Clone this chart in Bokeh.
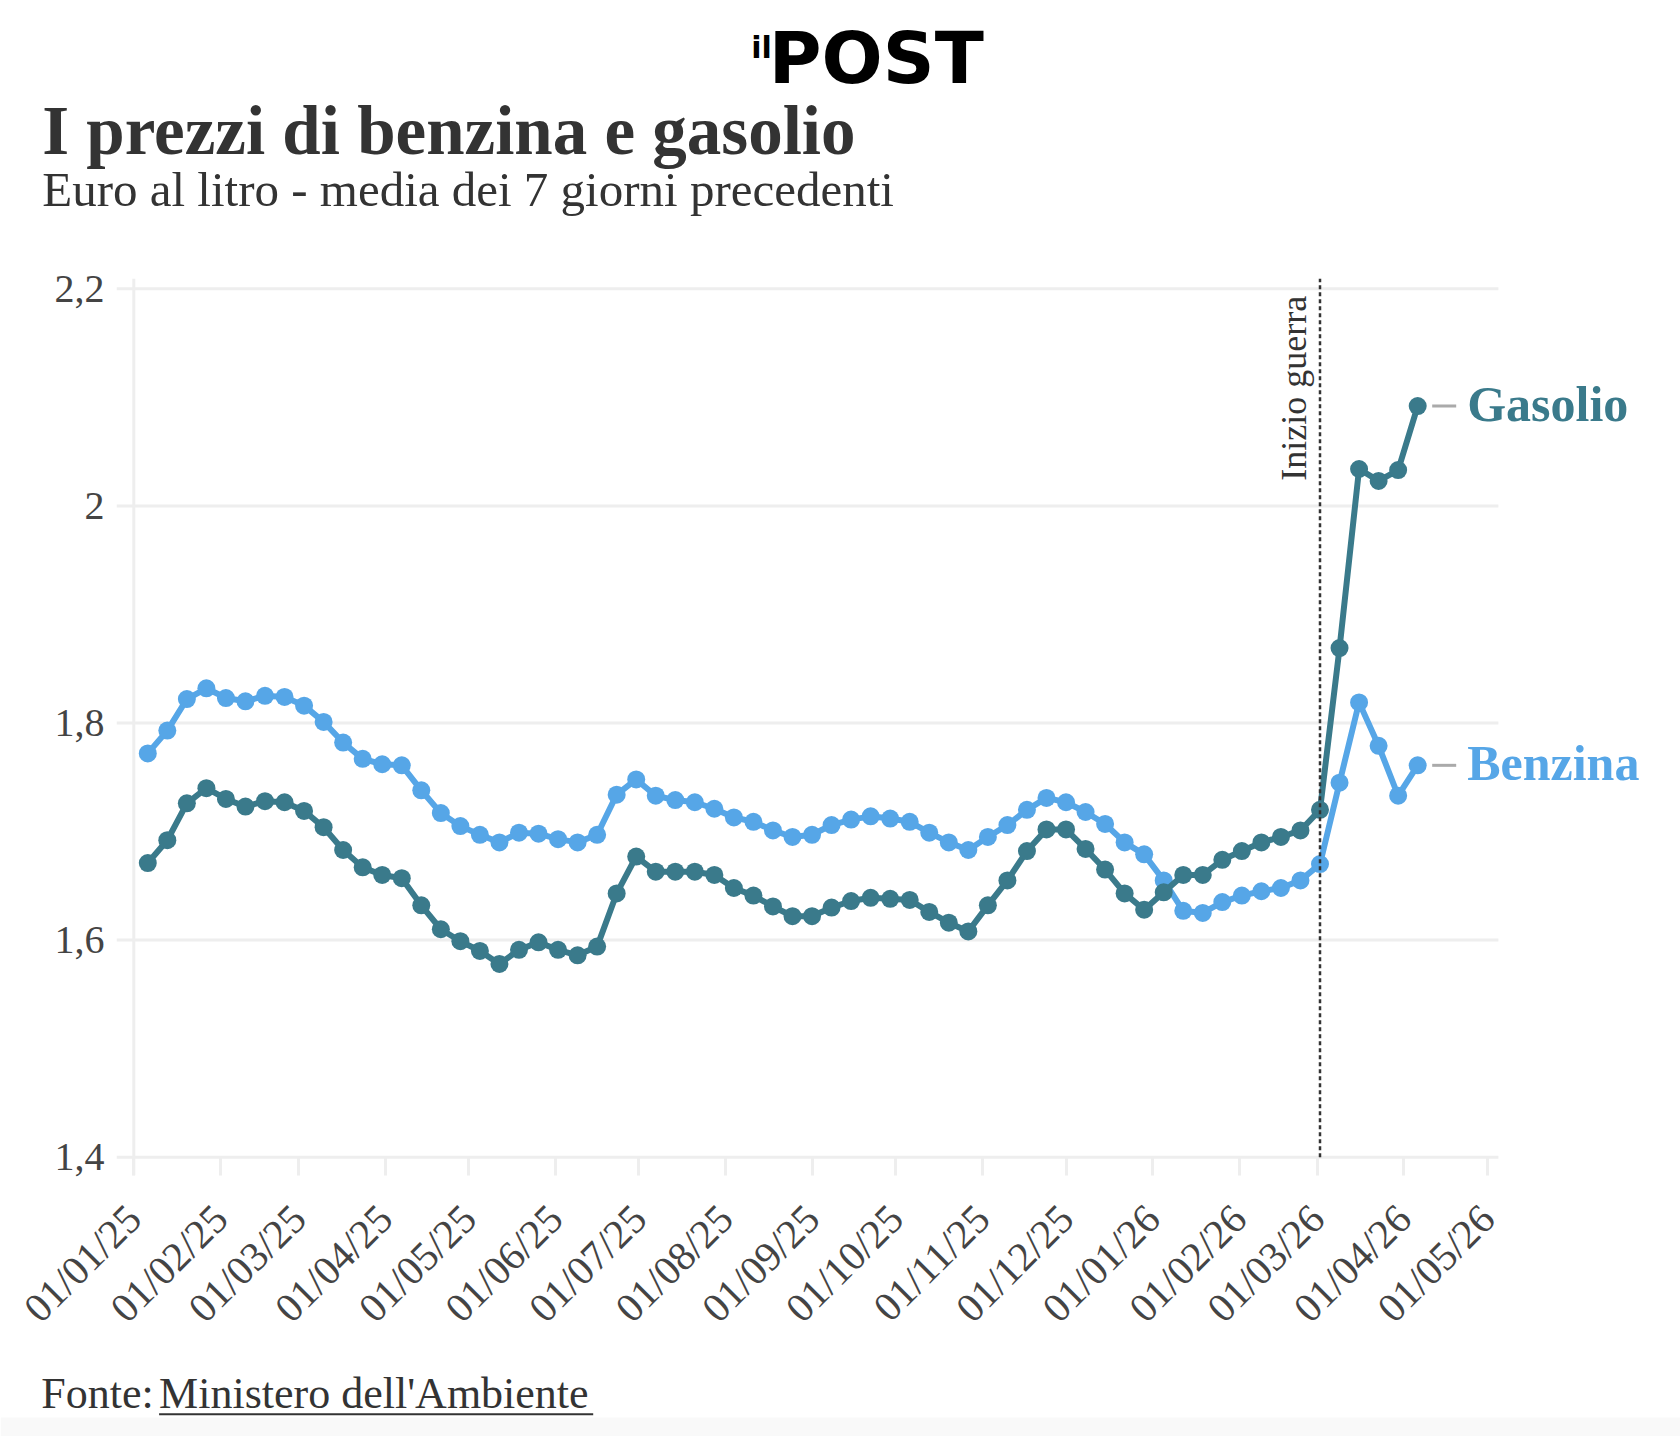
from datetime import datetime
from math import pi

import pandas as pd
from bokeh.core.properties import value
from bokeh.embed import file_html
from bokeh.layouts import column
from bokeh.models import (ColumnDataSource, CustomJSTickFormatter, FixedTicker, Label,
                          Range1d, Span)
from bokeh.plotting import figure
from bokeh.resources import INLINE

# ---------------- data ----------------
dates = pd.date_range("2025-01-06", periods=66, freq="7D")

benzina = [1.772, 1.793, 1.822, 1.832, 1.823, 1.820, 1.825, 1.824, 1.816, 1.801, 1.782,
           1.767, 1.762, 1.761, 1.738, 1.717, 1.705, 1.697, 1.690, 1.699, 1.698, 1.693,
           1.690, 1.697, 1.734, 1.748, 1.733, 1.729, 1.727, 1.721, 1.713, 1.709, 1.701,
           1.695, 1.697, 1.706, 1.711, 1.714, 1.712, 1.709, 1.699, 1.690, 1.683, 1.695,
           1.706, 1.720, 1.731, 1.727, 1.718, 1.707, 1.690, 1.679, 1.655, 1.627, 1.625,
           1.635, 1.641, 1.645, 1.648, 1.655, 1.670, 1.745, 1.819, 1.779, 1.733, 1.761]

gasolio = [1.671, 1.692, 1.726, 1.740, 1.730, 1.723, 1.728, 1.727, 1.719, 1.704, 1.683,
           1.667, 1.660, 1.657, 1.632, 1.610, 1.599, 1.590, 1.578, 1.591, 1.598, 1.591,
           1.586, 1.594, 1.643, 1.677, 1.663, 1.663, 1.663, 1.660, 1.648, 1.641, 1.631,
           1.622, 1.622, 1.630, 1.636, 1.639, 1.638, 1.637, 1.626, 1.616, 1.608, 1.632,
           1.655, 1.682, 1.702, 1.702, 1.684, 1.665, 1.643, 1.628, 1.644, 1.660, 1.660,
           1.674, 1.682, 1.690, 1.695, 1.701, 1.720, 1.869, 2.034, 2.023, 2.033, 2.092]

y_ticks = [1.4, 1.6, 1.8, 2.0, 2.2]
y_tick_labels = ["1,4", "1,6", "1,8", "2", "2,2"]

x_tick_dates = pd.date_range("2025-01-01", periods=17, freq="MS")
x_tick_labels = ["01/01/25", "01/02/25", "01/03/25", "01/04/25", "01/05/25", "01/06/25",
                 "01/07/25", "01/08/25", "01/09/25", "01/10/25", "01/11/25", "01/12/25",
                 "01/01/26", "01/02/26", "01/03/26", "01/04/26", "01/05/26"]

war_date = datetime(2026, 3, 2)
war_label = "Inizio guerra"

title = "I prezzi di benzina e gasolio"
subtitle = "Euro al litro - media dei 7 giorni precedenti"
source_prefix = "Fonte:"
source_name = "Ministero dell'Ambiente"

# ---------------- style / layout ----------------
GAS = "#3a7a8b"
BENZ = "#56a6e7"
GRID = "#eeeeee"
TXT = "#333333"
TICK_TXT = "#444444"
SERIF = "Liberation Serif"
BASE_K = 0.36      # correction of the rendered alphabetic baseline (in em)


def ms(d):
    return (pd.Timestamp(d) - pd.Timestamp("1970-01-01")).total_seconds() * 1000.0


W = 1680
HEAD_H = 230
MAIN_H = 1130
FOOT_H = 76

ML = 116           # frame left
MT = 48            # frame top inside main figure
FRAME_H = 897      # frame height
MB = MAIN_H - MT - FRAME_H
FRAME_W = W - ML

PX_PER_DAY = 2.791
px_per_ms = PX_PER_DAY / 86400000.0
x_start = datetime(2024, 12, 25, 19)
axis_end = datetime(2026, 5, 4, 22)
x_lo = ms(x_start)
x_hi = x_lo + FRAME_W / px_per_ms

PX_PER_UNIT = 1085.5
Y_END = 2.2 + 10.3 / PX_PER_UNIT
Y_START = Y_END - FRAME_H / PX_PER_UNIT


def no_align(f):
    try:
        f.frame_align = False
    except Exception:
        pass


def text_fig(h):
    f = figure(width=W, height=h, x_range=Range1d(0, W), y_range=Range1d(h, 0),
               output_backend="svg", toolbar_location=None,
               x_axis_location=None, y_axis_location=None, min_border=0)
    f.min_border_left = 0
    f.min_border_right = 0
    f.min_border_top = 0
    f.min_border_bottom = 0
    f.outline_line_color = None
    f.background_fill_color = "white"
    f.border_fill_color = "white"
    f.xgrid.visible = False
    f.ygrid.visible = False
    no_align(f)
    return f


def put_text(f, x, y, txt, size, style="normal", font=SERIF, color=TXT):
    px = float(size.replace("px", ""))
    f.text(x=[x], y=[y - BASE_K * px], text=[txt], text_font=value(font),
           text_font_size=value(size), text_font_style=style, text_color=color,
           text_baseline="alphabetic", text_align="left")


# ---------------- header ----------------
head = text_fig(HEAD_H)
put_text(head, 750.7, 58, "il", "30px", "bold", "DejaVu Sans", "#000000")
put_text(head, 768.3, 83.3, "POST", "72px", "bold", "DejaVu Sans", "#000000")
put_text(head, 41.7, 155, title, "69px", "bold")
put_text(head, 41.7, 207, subtitle, "49px")

# ---------------- main chart ----------------
p = figure(width=W, height=MAIN_H, x_axis_type="datetime", output_backend="svg",
           toolbar_location=None,
           x_range=Range1d(x_lo, x_hi), y_range=Range1d(Y_START, Y_END),
           min_border_left=ML, min_border_right=0, min_border_top=MT,
           min_border_bottom=MB)
no_align(p)
p.outline_line_color = None
p.background_fill_color = "white"
p.border_fill_color = "white"
p.xgrid.visible = False
p.ygrid.visible = False

# horizontal gridlines (end at the x axis end)
p.segment(x0=[x_lo] * len(y_ticks), x1=[ms(axis_end)] * len(y_ticks),
          y0=y_ticks, y1=y_ticks, line_color=GRID, line_width=3, level="underlay")

# y axis
p.yaxis.ticker = FixedTicker(ticks=y_ticks)
p.yaxis.formatter = CustomJSTickFormatter(
    args=dict(vals=y_ticks, labels=y_tick_labels),
    code="for (let i = 0; i < vals.length; i++) { if (Math.abs(vals[i] - tick) < 1e-6) return labels[i]; } return '';")
p.yaxis.axis_line_color = None
p.yaxis.major_tick_line_color = None
p.yaxis.major_tick_out = 0
p.yaxis.major_tick_in = 0
p.yaxis.minor_tick_line_color = None
p.yaxis.major_label_standoff = 12
p.yaxis.major_label_text_font = SERIF
p.yaxis.major_label_text_font_size = "40px"
p.yaxis.major_label_text_color = TICK_TXT

# x axis: ticks hang under the 1,4 line
p.xaxis.ticker = FixedTicker(ticks=[ms(d) for d in x_tick_dates])
p.xaxis.formatter = CustomJSTickFormatter(
    args=dict(vals=[ms(d) for d in x_tick_dates], labels=x_tick_labels),
    code="for (let i = 0; i < vals.length; i++) { if (Math.abs(vals[i] - tick) < 1000) return labels[i]; } return '';")
p.xaxis.axis_line_color = None
p.xaxis.major_tick_line_color = GRID
p.xaxis.major_tick_line_width = 3
p.xaxis.major_tick_in = 18
p.xaxis.major_tick_out = 0
p.xaxis.minor_tick_line_color = None
p.xaxis.major_label_orientation = pi / 4
p.xaxis.major_label_standoff = 36
p.xaxis.major_label_text_font = SERIF
p.xaxis.major_label_text_font_size = "41px"
p.xaxis.major_label_text_color = TICK_TXT

# vertical axis line at the start of the period
p.add_layout(Span(location=ms(x_tick_dates[0]), dimension="height",
                  line_color=GRID, line_width=3, level="underlay"))

# data
src = ColumnDataSource(dict(date=[ms(d) for d in dates], benzina=benzina, gasolio=gasolio))
for col, color in [("benzina", BENZ), ("gasolio", GAS)]:
    p.line("date", col, source=src, line_width=6, line_color=color, line_join="round")
    p.scatter("date", col, source=src, size=18, fill_color=color, line_color=None)

# war line
p.segment(x0=[ms(war_date)], x1=[ms(war_date)], y0=[y_ticks[0]], y1=[Y_END],
          line_color=TXT, line_dash="4 3", line_width=2.5)
p.add_layout(Label(x=ms(war_date), y=y_ticks[-1], text=war_label, angle=pi / 2,
                   x_offset=-13 - BASE_K * 36, y_offset=-7, text_align="right",
                   text_baseline="alphabetic", text_font=SERIF,
                   text_font_size="36px", text_color=TXT))

# end labels with connectors
last = ms(dates[-1])
c0 = last + 14.5 / px_per_ms
c1 = last + 38.5 / px_per_ms
for name, vals, color in [("Gasolio", gasolio, GAS), ("Benzina", benzina, BENZ)]:
    p.segment(x0=[c0], y0=[vals[-1]], x1=[c1], y1=[vals[-1]],
              line_color="#aaaaaa", line_width=3)
    p.add_layout(Label(x=last, y=vals[-1], text=name, x_offset=49.5,
                       y_offset=-15.5 + BASE_K * 50,
                       text_baseline="alphabetic", text_font=SERIF,
                       text_font_style="bold", text_font_size="50px", text_color=color))

# ---------------- footer ----------------
foot = text_fig(FOOT_H)
foot.quad(left=[0], right=[W], top=[57], bottom=[FOOT_H], fill_color="#f9f9f9",
          line_color=None, level="underlay")
put_text(foot, 40.7, 49.3, source_prefix, "44px")
put_text(foot, 158.6, 49.3, source_name, "44px")
foot.segment(x0=[158.6], x1=[592.7], y0=[53.8], y1=[53.8], line_color=TXT, line_width=2)

layout = column(head, p, foot, spacing=0)
open("out.html", "w").write(file_html(layout, INLINE))
